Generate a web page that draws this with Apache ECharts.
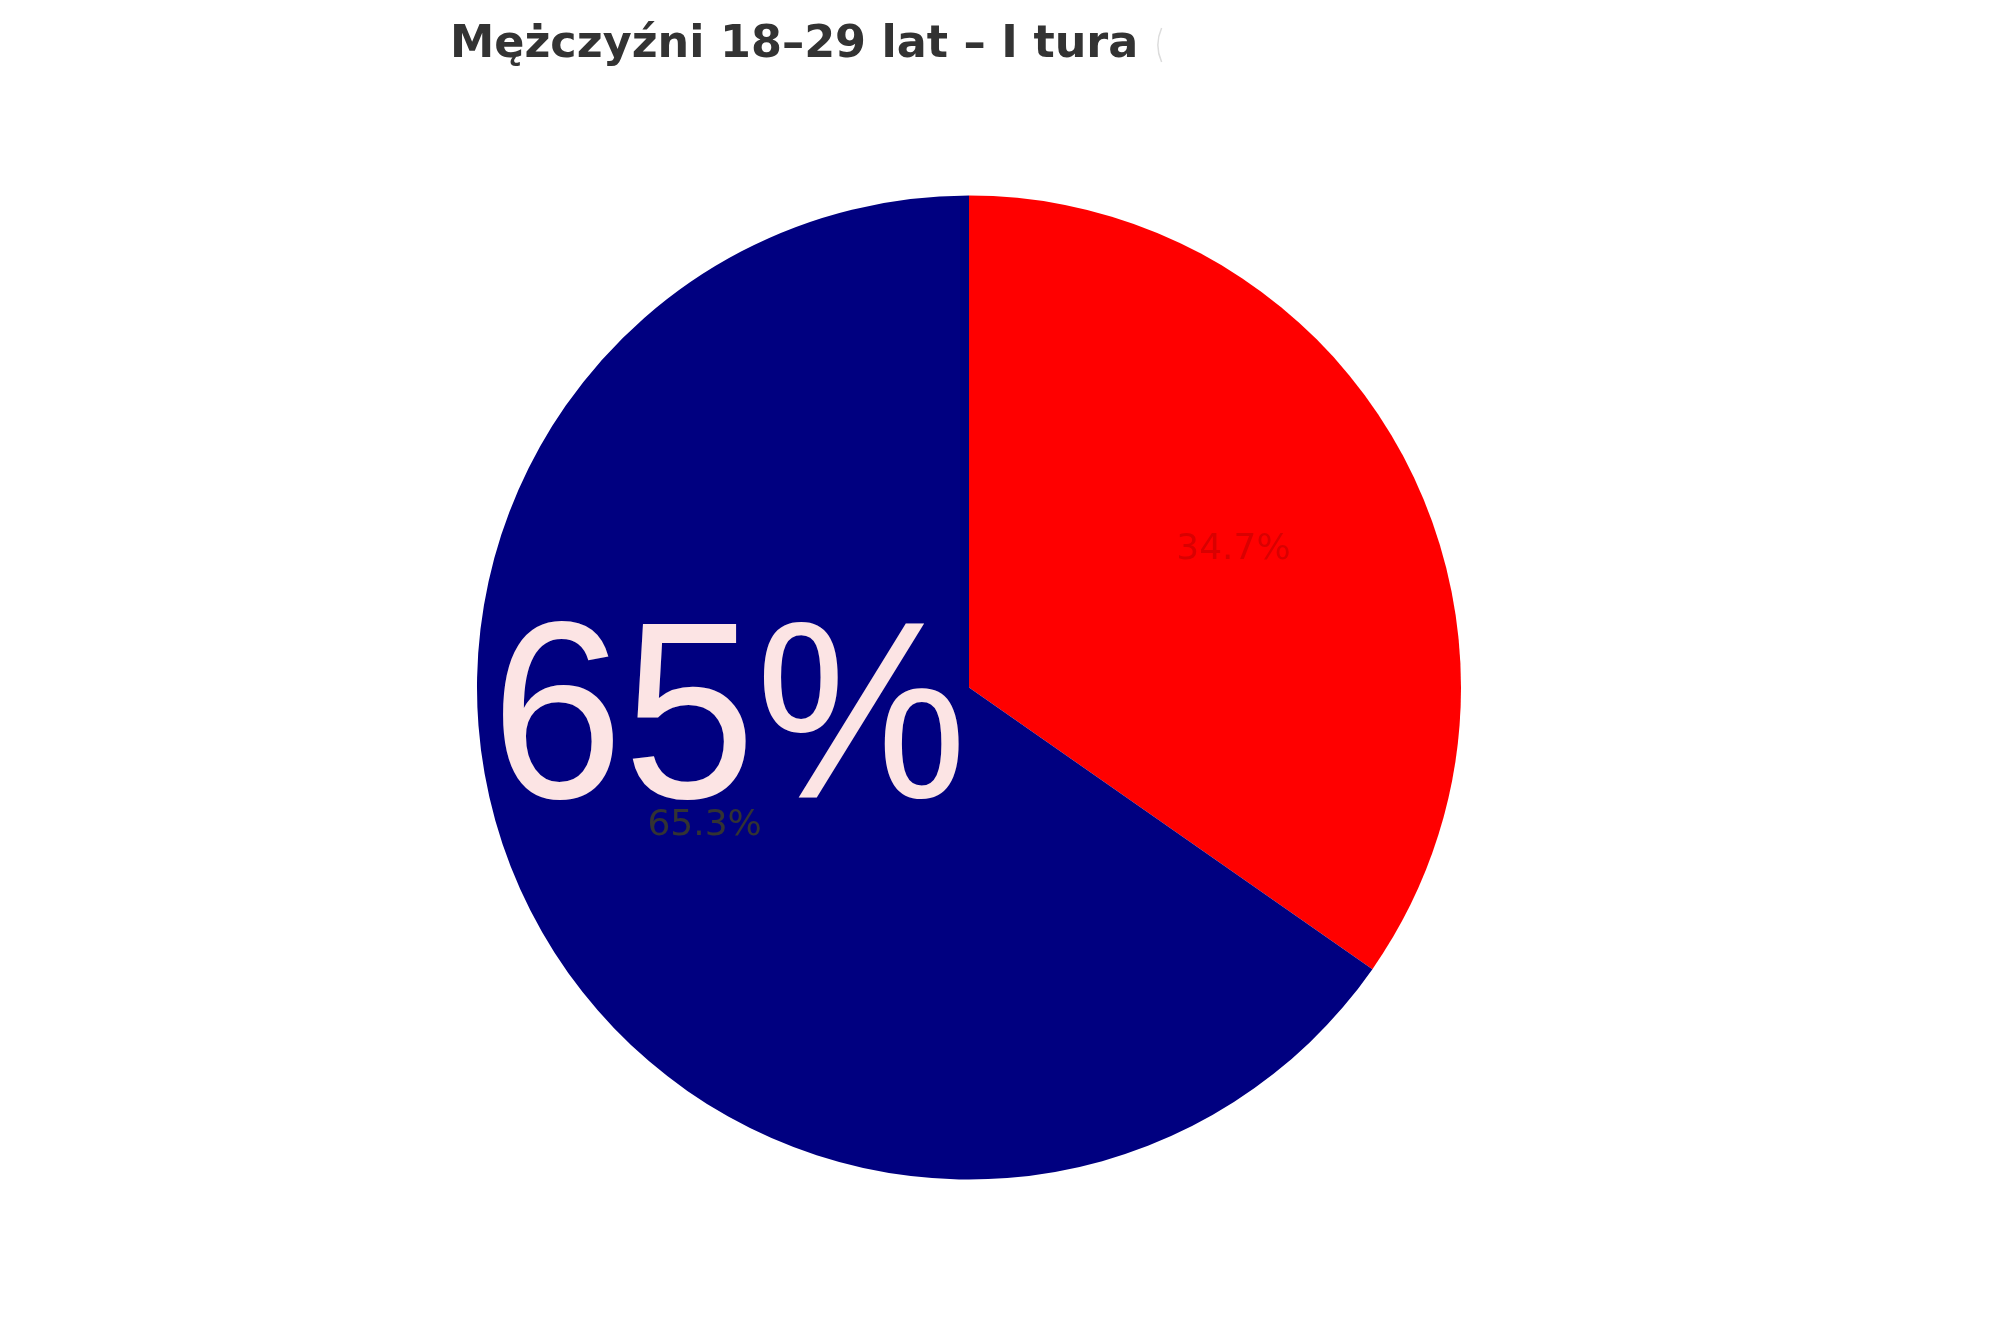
<!DOCTYPE html>
<html>
<head>
<meta charset="utf-8">
<script src="https://cdn.jsdelivr.net/npm/echarts@6/dist/echarts.min.js"></script>
<style>
html,body{margin:0;padding:0;background:#fff;}
#chart{width:1999px;height:1324px;}
</style>
</head>
<body>
<div id="chart"></div>
<script>
const titleText = 'Mężczyźni 18–29 lat – I tura';
const categories = ['Kandydat A', 'Kandydat B'];
const values = [34.7, 65.3];
const sliceColors = ['#ff0000', '#000080'];
const labelColors = ['#d90000', '#333333'];
const bigLabel = '65%';

const chart = echarts.init(document.getElementById('chart'), null, {renderer: 'canvas'});
const R = 492;
const center = [969, 687.5];

const baseData = categories.map((c, i) => ({
  name: c, value: values[i], itemStyle: {color: sliceColors[i]}
}));
const labelData = categories.map((c, i) => ({
  name: c, value: values[i],
  label: {color: labelColors[i]}
}));

chart.setOption({
  backgroundColor: '#ffffff',
  animation: false,
  title: {
    text: titleText,
    left: 450,
    top: 23,
    padding: 0,
    textStyle: {fontFamily: 'DejaVu Sans', fontWeight: 'bold', fontSize: 44.5, color: '#333333'}
  },
  series: [
    {
      type: 'pie',
      center: center,
      radius: [0, R],
      startAngle: 90,
      clockwise: true,
      silent: true,
      label: {show: false},
      labelLine: {show: false},
      itemStyle: {borderWidth: 0},
      emphasis: {disabled: true},
      data: baseData
    },
    {
      type: 'pie',
      center: center,
      radius: [R * 0.2, R],
      startAngle: 90,
      clockwise: true,
      silent: true,
      itemStyle: {color: 'rgba(0,0,0,0)', borderWidth: 0},
      emphasis: {disabled: true},
      labelLine: {show: false},
      label: {
        show: true,
        position: 'inside',
        fontFamily: 'DejaVu Sans',
        fontSize: 36,
        formatter: p => p.value.toFixed(1) + '%'
      },
      data: labelData
    }
  ],
  graphic: [
    {
      type: 'text',
      x: 729,
      y: 728,
      scaleX: 0.94,
      z: 100,
      style: {
        text: bigLabel,
        fontFamily: 'Liberation Sans',
        fontSize: 253,
        fill: '#fce4e4',
        align: 'center',
        verticalAlign: 'middle'
      }
    },
    {
      type: 'arc',
      z: 100,
      shape: {cx: 1200, cy: 45, r: 42, startAngle: Math.PI * 0.867, endAngle: Math.PI * 1.133},
      style: {stroke: '#dcdcdc', lineWidth: 1.5, fill: null}
    }
  ]
});
</script>
</body>
</html>
